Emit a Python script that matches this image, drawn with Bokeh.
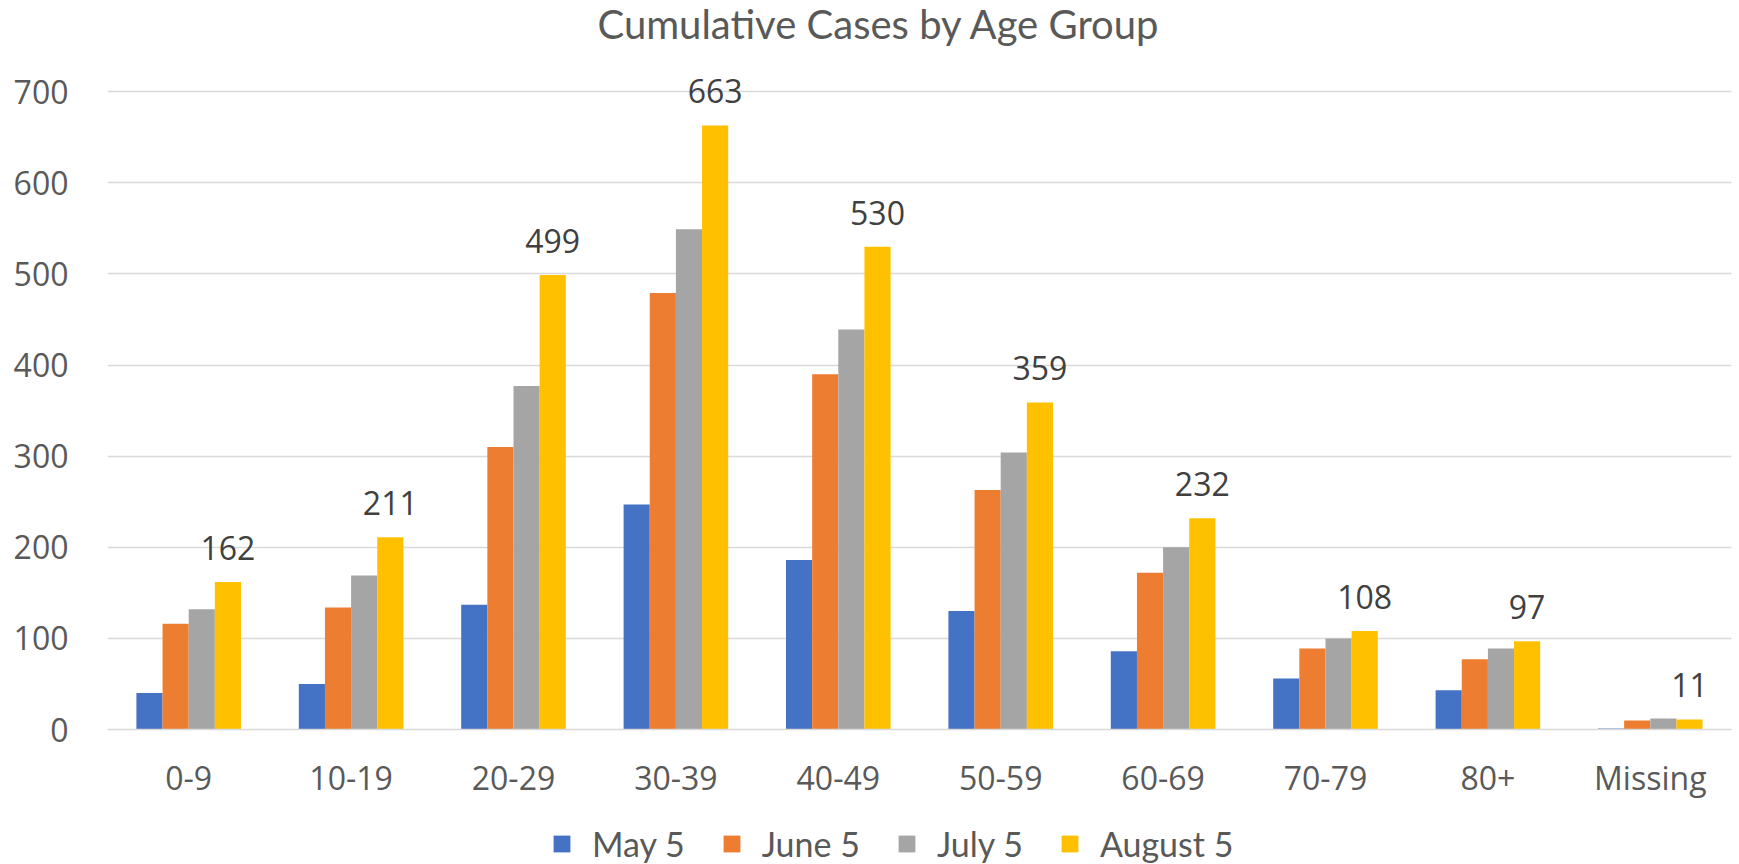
from bokeh.plotting import figure
from bokeh.models import (FactorRange, Range1d, SingleIntervalTicker, ColumnDataSource,
                          Legend, LegendItem, Label)
from bokeh.layouts import column
from bokeh.transform import dodge
from bokeh.core.properties import value
from bokeh.embed import file_html
from bokeh.resources import INLINE

title_text = "Cumulative Cases by Age Group"
categories = ["0-9", "10-19", "20-29", "30-39", "40-49", "50-59", "60-69", "70-79", "80+", "Missing"]
series_names = ["May 5", "June 5", "July 5", "August 5"]
may5 = [40, 50, 137, 247, 186, 130, 86, 56, 43, 1]
june5 = [116, 134, 310, 479, 390, 263, 172, 89, 77, 10]
july5 = [132, 169, 377, 549, 439, 304, 200, 100, 89, 12]
aug5 = [162, 211, 499, 663, 530, 359, 232, 108, 97, 11]
y_ticks_interval = 100
y_view_max = 734.3   # headroom above the 700 gridline so value labels are not clipped

colors = ["#4472C4", "#ED7D31", "#A5A5A5", "#FFC000"]
offsets = [-0.2415, -0.0805, 0.0805, 0.2415]
bar_w = 0.161

# ---- title strip ----
pt = figure(width=1739, height=60, output_backend="svg", toolbar_location=None,
            x_axis_location=None, y_axis_location=None, min_border=0)
pt.outline_line_color = None
pt.add_layout(Label(x=490, y=37, x_units="screen", y_units="screen", text=title_text,
                    text_font="Lato", text_font_size="40px", text_color="#595959",
                    text_align="left", text_baseline="alphabetic"))

# ---- main chart ----
source = ColumnDataSource(dict(cat=categories, may5=may5, june5=june5, july5=july5, aug5=aug5,
                               lab=[str(v) for v in aug5]))

p = figure(width=1739, height=752, x_range=FactorRange(*categories, range_padding=0),
           y_range=Range1d(0, y_view_max), output_backend="svg", toolbar_location=None,
           min_border_left=107, min_border_right=8, min_border_top=0, min_border_bottom=83)

for col, off, c in zip(["may5", "june5", "july5", "aug5"], offsets, colors):
    p.vbar(x=dodge("cat", off, range=p.x_range), top=col, width=bar_w, source=source,
           fill_color=c, line_color=None)

p.text(x=dodge("cat", offsets[3], range=p.x_range), y="aug5", text="lab", source=source,
       text_font=value("Open Sans"), text_font_size="32px", text_color="#404040",
       text_align="center", text_baseline="alphabetic", y_offset=-34)

p.outline_line_color = None
p.xgrid.grid_line_color = None
p.ygrid.grid_line_color = "#D9D9D9"
p.ygrid.grid_line_width = 1.5
p.yaxis.ticker = SingleIntervalTicker(interval=y_ticks_interval)
p.yaxis.axis_line_color = None
p.yaxis.major_tick_line_color = None
p.yaxis.minor_tick_line_color = None
p.yaxis.major_label_standoff = 33
p.yaxis.major_label_text_font = "Open Sans"
p.yaxis.major_label_text_font_size = "32px"
p.yaxis.major_label_text_color = "#595959"

p.xaxis.axis_line_color = "#D9D9D9"
p.xaxis.axis_line_width = 1.5
p.xaxis.major_tick_line_color = None
p.xaxis.minor_tick_line_color = None
p.xaxis.major_label_standoff = 20
p.xaxis.major_label_text_font = "Open Sans"
p.xaxis.major_label_text_font_size = "32px"
p.xaxis.major_label_text_color = "#595959"

# ---- legend strip ----
leg_src = ColumnDataSource(dict(x=[float("nan")], top=[float("nan")]))
p2 = figure(width=1739, height=52, output_backend="svg", toolbar_location=None,
            x_axis_location=None, y_axis_location=None, min_border=0)
p2.outline_line_color = None
leg_r = [p2.vbar(x="x", top="top", width=1, source=leg_src, fill_color=c, line_color=None)
         for c in colors]
legend = Legend(items=[LegendItem(label=n, renderers=[r]) for n, r in zip(series_names, leg_r)],
                orientation="horizontal", location=(444, 0),
                glyph_width=21, glyph_height=21, label_standoff=20, spacing=36,
                padding=0, margin=0, border_line_color=None, background_fill_alpha=0,
                label_text_font="Lato", label_text_font_size="34px", label_text_color="#595959")
p2.add_layout(legend, "center")

layout = column(pt, p, p2, spacing=0)
open("out.html", "w").write(file_html(layout, INLINE))
